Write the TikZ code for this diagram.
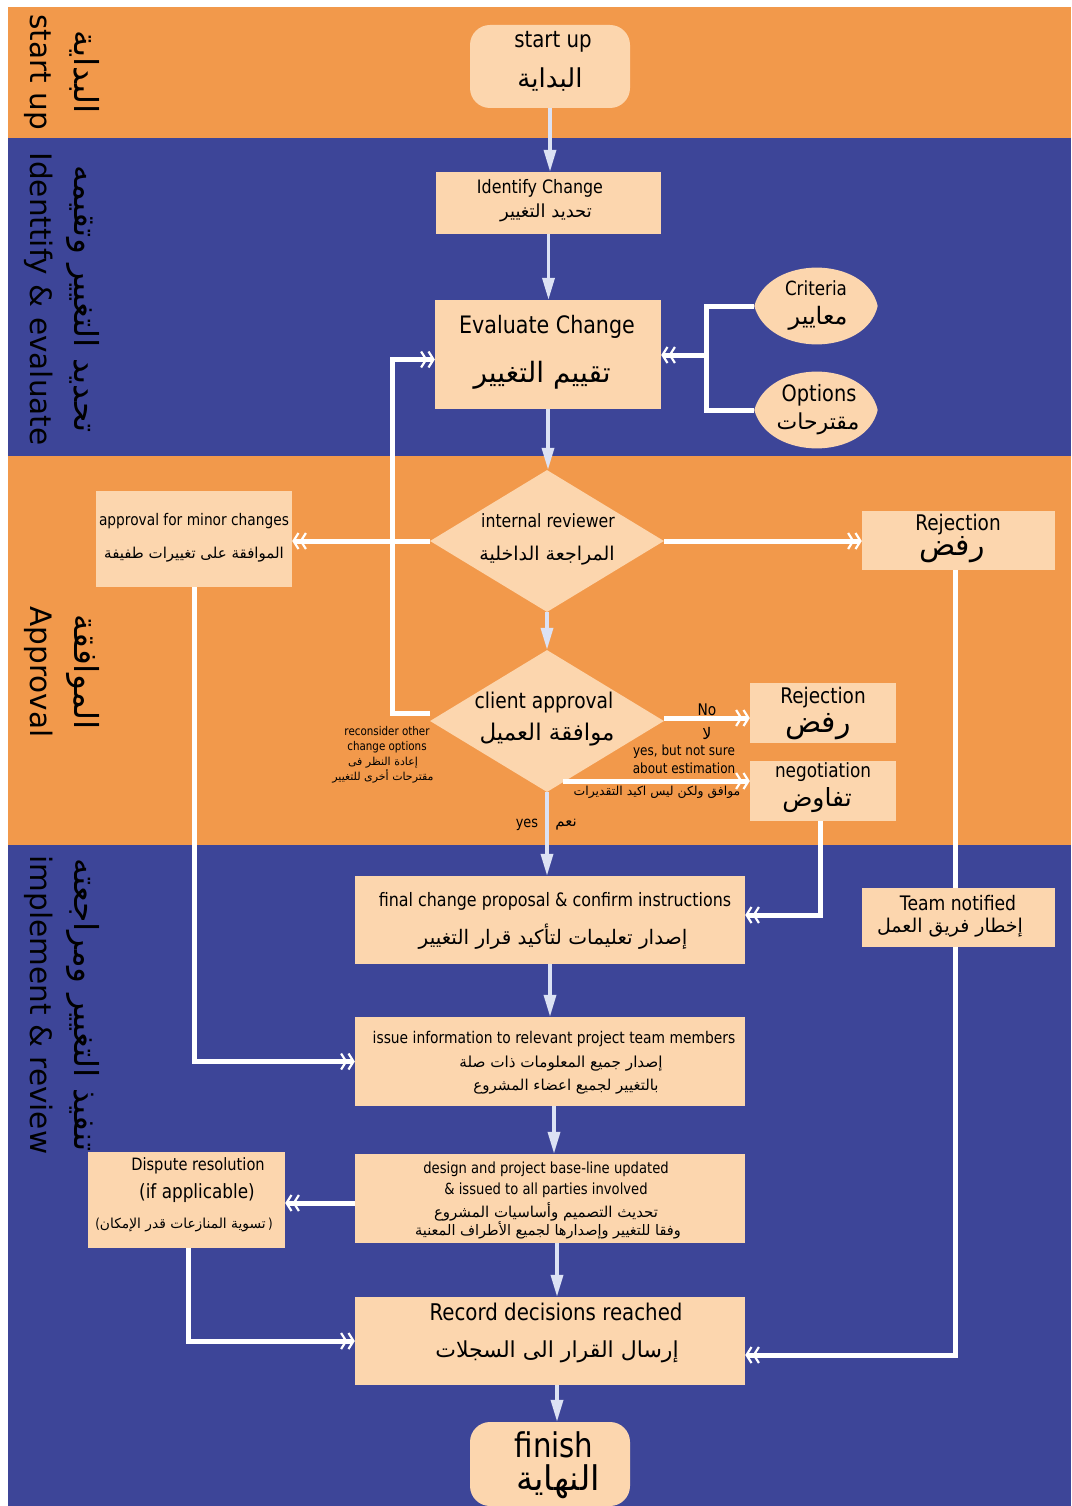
\documentclass[tikz,border=0pt]{standalone}
\usepackage{fontspec}
\setmainfont{DejaVu Sans}[FakeStretch=0.86]
\newfontfamily\arfont[Script=Arabic]{DejaVu Sans}
\newfontfamily\lanefont{DejaVu Sans}
\TeXXeTstate=1
\usetikzlibrary{arrows.meta,shapes.geometric}
\definecolor{laneorange}{HTML}{F2994B}
\definecolor{laneblue}{HTML}{3D4598}
\definecolor{boxfill}{HTML}{FCD6AE}
\definecolor{flowtint}{HTML}{DCE2F4}
\newcommand\fsz[1]{\fontsize{#1}{#1}\selectfont}
\newcommand\AR[1]{{\arfont\beginR#1\endR}}
\newcommand\LaneAR[1]{{\arfont\fontsize{33}{44}\selectfont\beginR#1\endR}}

\begin{document}
\begin{tikzpicture}[x=1pt,y=-1pt,
  box/.style={fill=boxfill, inner sep=0pt},
  term/.style={box, rounded corners=20pt},
  decision/.style={box, diamond, inner sep=0pt},
  tx/.style={inner sep=0pt, font=\fsz{#1}, text=black},
  ta/.style={inner sep=0pt, font=\arfont\fsz{#1}, text=black},
  lane/.style={inner sep=0pt, rotate=-90, align=center,
               font=\lanefont\fontsize{29.5}{44}\selectfont, text=black},
  flow/.style={draw=flowtint, line width=3.5pt,
               -{Triangle[length=22pt,width=12pt,fill=flowtint]}},
  link/.style={draw=white, line width=5pt},
  linkarrow/.style={link, -{Straight Barb[length=5pt,width=16pt,line width=2.2pt]
                              Straight Barb[length=5pt,width=16pt,line width=2.2pt]}},
]
\useasboundingbox (0,0) rectangle (1071,1506);
\fill[white] (0,0) rectangle (1071,1506);

% swim lanes
\fill[laneorange] (8,7)    rectangle (1071,138);
\fill[laneblue]   (8,138)  rectangle (1071,456);
\fill[laneorange] (8,456)  rectangle (1071,845);
\fill[laneblue]   (8,845)  rectangle (1071,1506);

\node[lane] (lane-start)   at (62,72)   {\LaneAR{البداية}\\start up};
\node[lane] (lane-ident)   at (62,299)  {\LaneAR{تحديد التغيير وتقيمه}\\Identtify \& evaluate};
\node[lane] (lane-approve) at (62,672)  {\LaneAR{الموافقة}\\Approval};
\node[lane] (lane-impl)    at (62,1005) {\LaneAR{تنفيذ التغيير ومراجعته}\\implement \& review};

% boxes
\node[term, minimum width=160, minimum height=83] (start) at (550,66.5) {};
\node[tx=23] (start-en) at (553,42) {start up};
\node[ta=26] (start-ar) at (550,80) {\AR{البداية}};

\node[box, minimum width=225, minimum height=62] (identify) at (548.5,203) {};
\node[tx=18.5] (identify-en) at (540,188) {Identify Change};
\node[ta=18] (identify-ar) at (546,213) {\AR{تحديد التغيير}};

\node[box, minimum width=226, minimum height=109] (evaluate) at (548,354.5) {};
\node[tx=24] (evaluate-en) at (547,327) {Evaluate Change};
\node[ta=28] (evaluate-ar) at (542,375) {\AR{تقييم التغيير}};

\node[inner sep=0pt, minimum width=123, minimum height=76] (criteria) at (816,306) {};
\fill[boxfill] (criteria.west)
  .. controls ([shift={(14,-13)}]criteria.north west) and ([shift={(-12,-13)}]criteria.north east) .. (criteria.east)
  .. controls ([shift={(-12,13)}]criteria.south east) and ([shift={(14,13)}]criteria.south west) .. (criteria.west) -- cycle;
\node[tx=19.5] (criteria-en) at (816,288) {Criteria};
\node[ta=24] (criteria-ar) at (818,318) {\AR{معايير}};

\node[inner sep=0pt, minimum width=123, minimum height=76] (options) at (816,410) {};
\fill[boxfill] (options.west)
  .. controls ([shift={(14,-13)}]options.north west) and ([shift={(-12,-13)}]options.north east) .. (options.east)
  .. controls ([shift={(-12,13)}]options.south east) and ([shift={(14,13)}]options.south west) .. (options.west) -- cycle;
\node[tx=22.5] (options-en) at (819,395) {Options};
\node[ta=22] (options-ar) at (818,424) {\AR{مقترحات}};

\node[decision, minimum width=234, minimum height=142] (internal) at (547,541) {};
\node[tx=18.3] (internal-en) at (548,521) {internal reviewer};
\node[ta=19] (internal-ar) at (547,556) {\AR{المراجعة الداخلية}};

\node[box, minimum width=196, minimum height=96] (minor) at (194,539) {};
\node[tx=16] (minor-en) at (194,521) {approval for minor changes};
\node[ta=15] (minor-ar) at (194,555) {\AR{الموافقة على تغييرات طفيفة}};

\node[box, minimum width=193, minimum height=59] (reject1) at (958.5,540.5) {};
\node[tx=21.5] (reject1-en) at (958,525) {Rejection};
\node[ta=30] (reject1-ar) at (952,550) {\AR{رفض}};

\node[decision, minimum width=234, minimum height=142] (client) at (547,721) {};
\node[tx=21.7] (client-en) at (544,703) {client approval};
\node[ta=23] (client-ar) at (547,735) {\AR{موافقة العميل}};

\node[box, minimum width=146, minimum height=60] (reject2) at (823,713) {};
\node[tx=21.5] (reject2-en) at (823,698) {Rejection};
\node[ta=30] (reject2-ar) at (818,727) {\AR{رفض}};

\node[box, minimum width=146, minimum height=60] (negotiation) at (823,791) {};
\node[tx=19.6] (negotiation-en) at (823,772) {negotiation};
\node[ta=25] (negotiation-ar) at (817,800) {\AR{تفاوض}};

\node[box, minimum width=390, minimum height=88] (final) at (550,920) {};
\node[tx=18.5] (final-en) at (555,901) {final change proposal \& confirm instructions};
\node[ta=20] (final-ar) at (553,937) {\AR{إصدار تعليمات لتأكيد قرار التغيير}};

\node[box, minimum width=193, minimum height=59] (team) at (958.5,917.5) {};
\node[tx=20] (team-en) at (958,903) {Team notified};
\node[ta=19] (team-ar) at (950,928) {\AR{إخطار فريق العمل}};

\node[box, minimum width=390, minimum height=89] (issue) at (550,1061.5) {};
\node[tx=16.1] (issue-en) at (554,1039) {issue information to relevant project team members};
\node[ta=15.2] (issue-ar1) at (561,1064) {\AR{إصدار جميع المعلومات ذات صلة}};
\node[ta=15] (issue-ar2) at (566,1087) {\AR{بالتغيير لجميع اعضاء المشروع}};

\node[box, minimum width=197, minimum height=96] (dispute) at (186.5,1200) {};
\node[tx=17] (dispute-en1) at (198,1166) {Dispute resolution};
\node[tx=19.6] (dispute-en2) at (197,1193) {(if applicable)};
\node[tx=13.8] (dispute-ar) at (184,1225) {(\AR{تسوية المنازعات قدر الإمكان}\,)};

\node[box, minimum width=390, minimum height=89] (design) at (550,1198.5) {};
\node[tx=15.3] (design-en1) at (546,1169) {design and project base-line updated};
\node[tx=15.3] (design-en2) at (546,1190) {\& issued to all parties involved};
\node[ta=15] (design-ar1) at (546,1212) {\AR{تحديث التصميم وأساسيات المشروع}};
\node[ta=14.5] (design-ar2) at (548,1230) {\AR{وفقا للتغيير وإصدارها لجميع الأطراف المعنية}};

\node[box, minimum width=390, minimum height=88] (record) at (550,1341) {};
\node[tx=23] (record-en) at (556,1312) {Record decisions reached};
\node[ta=22] (record-ar) at (557,1352) {\AR{إرسال القرار الى السجلات}};

\node[term, minimum width=160, minimum height=84] (finish) at (550,1464) {};
\node[tx=34] (finish-en) at (554,1445) {finish};
\node[ta=34] (finish-ar) at (558,1482) {\AR{النهاية}};

% main flow
\draw[flow] (start.south) -- (start.south |- identify.north);
\draw[flow] (identify.south) -- (identify.south |- evaluate.north);
\draw[flow] (evaluate.south) -- (evaluate.south |- internal.north);
\draw[flow] (internal.south) -- (internal.south |- client.north);
\draw[flow] (client.south) -- (client.south |- final.north);
\draw[flow] (final.south) -- (final.south |- issue.north);
\draw[flow] ([xshift=4pt]issue.south) -- ([xshift=4pt]issue.south |- design.north);
\draw[flow] ([xshift=7pt]design.south) -- ([xshift=7pt]design.south |- record.north);
\draw[flow] ([xshift=7pt]record.south) -- ([xshift=7pt]record.south |- finish.north);

% criteria and options feed the evaluation
\coordinate (feed) at (706,355);
\draw[link] (criteria.west) -| (feed) |- (options.west);
\draw[linkarrow] (feed) -- (feed -| evaluate.east);

% decisions
\draw[linkarrow] (internal.west) -- (internal.west -| minor.east);
\draw[linkarrow] (internal.east) -- (internal.east -| reject1.west);
\coordinate (loop) at (392,713);
\draw[linkarrow] ([yshift=8pt]client.west) -- (loop) |- ([yshift=-5pt]evaluate.west);
\draw[linkarrow] ([yshift=3pt]client.east) -- ([yshift=3pt]client.east -| reject2.west);
\coordinate (nego-start) at (563,781);
\draw[linkarrow] (nego-start) -- (nego-start -| negotiation.west);
\draw[linkarrow] (minor.south) |- (issue.west);
\draw[linkarrow] ([xshift=-3pt]negotiation.south) |- ([yshift=5pt]final.east);
\draw[link] ([xshift=-3pt]reject1.south) -- ([xshift=-3pt]team.north);
\draw[linkarrow] ([xshift=-3pt]team.south) |- ([yshift=-14pt]record.east);
\draw[linkarrow] ([yshift=-4.5pt]design.west) -- ([yshift=-4.5pt]design.west -| dispute.east);
\draw[linkarrow] ([xshift=1.5pt]dispute.south) |- (record.west);

% branch labels
\node[inner sep=0pt, align=center, font=\fontsize{12}{15.5}\selectfont] (lbl-reconsider-en) at (387,739.5) {reconsider other\\change options};
\node[inner sep=0pt, align=center, font=\arfont\fontsize{11}{15}\selectfont] (lbl-reconsider-ar) at (383,770.5) {\AR{إعادة النظر فى}\\\AR{مقترحات أخرى للتغيير}};
\node[tx=16] (lbl-no-en) at (707,710) {No};
\node[ta=16] (lbl-no-ar) at (707,733) {\AR{لا}};
\node[inner sep=0pt, align=center, font=\fontsize{14}{18}\selectfont] (lbl-unsure-en) at (684,759) {yes, but not sure\\about estimation};
\node[ta=12.4] (lbl-unsure-ar) at (657,792) {\AR{موافق ولكن ليس اكيد التقديرات}};
\node[tx=15] (lbl-yes-en) at (527,825) {yes};
\node[ta=15] (lbl-yes-ar) at (566,825) {\AR{نعم}};
\end{tikzpicture}
\end{document}
